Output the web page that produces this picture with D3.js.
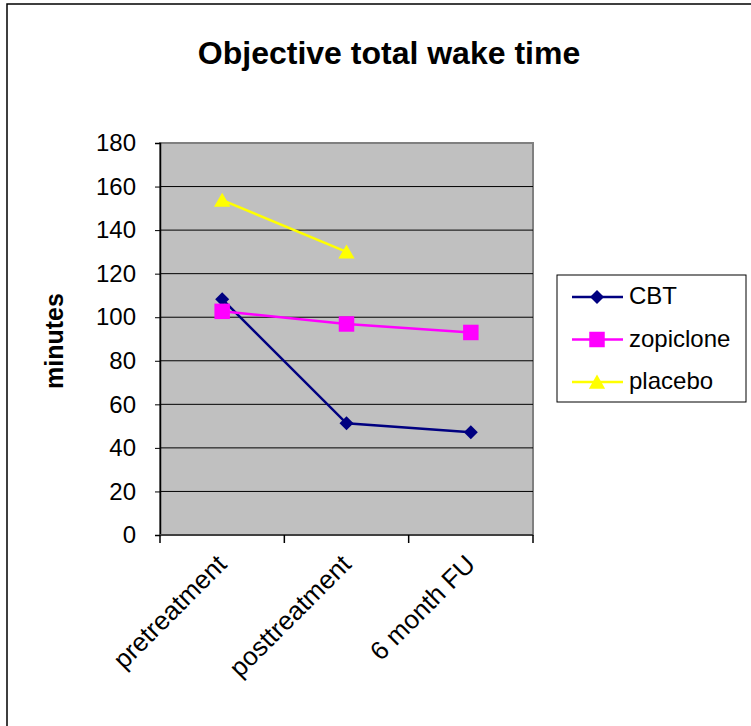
<!DOCTYPE html>
<html>
<head>
<meta charset="utf-8">
<script src="https://cdn.jsdelivr.net/npm/d3@7"></script>
<style>
  body { margin: 0; background: #fff; }
  text { font-family: "Liberation Sans", Arial, sans-serif; }
</style>
</head>
<body>
<div id="chart"></div>
<script>
// Data
const categories = ["pretreatment", "posttreatment", "6 month FU"];
const cbt = [108.3, 51.3, 47.2];
const zopiclone = [102.7, 96.9, 93];
const placebo = [153.8, 130, null];
const yTicks = [0, 20, 40, 60, 80, 100, 120, 140, 160, 180];
const seriesNames = ["CBT", "zopiclone", "placebo"];

const width = 751, height = 726;
const plot = {left: 160, right: 533, top: 143, bottom: 535};

const svg = d3.select("#chart").append("svg")
    .attr("width", width)
    .attr("height", height);

// outer chart border
svg.append("rect")
    .attr("x", 7).attr("y", 4)
    .attr("width", 760).attr("height", 740)
    .attr("fill", "#fff")
    .attr("stroke", "#000").attr("stroke-width", 1.5);

// Title
svg.append("text")
    .attr("x", 389).attr("y", 64)
    .attr("text-anchor", "middle")
    .style("font-size", "32px").style("font-weight", "bold")
    .text("Objective total wake time");

// Scales
const xScale = d3.scaleBand().domain(categories).range([plot.left, plot.right]);
const yScale = d3.scaleLinear().domain([0, 180]).range([plot.bottom, plot.top]);

// Plot area background
svg.append("rect")
    .attr("x", plot.left).attr("y", plot.top)
    .attr("width", plot.right - plot.left).attr("height", plot.bottom - plot.top)
    .attr("fill", "#c0c0c0")
    .attr("stroke", "#808080").attr("stroke-width", 2);

// Gridlines
svg.append("g").selectAll("line")
    .data(yTicks.filter(d => d > 0 && d < 180))
    .enter().append("line")
    .attr("x1", plot.left).attr("x2", plot.right)
    .attr("y1", d => yScale(d)).attr("y2", d => yScale(d))
    .attr("stroke", "#000").attr("stroke-width", 1);

// Y axis
const yAxis = svg.append("g")
    .attr("transform", `translate(${plot.left},0)`)
    .call(d3.axisLeft(yScale).tickValues(yTicks).tickSize(5).tickPadding(19));
yAxis.select(".domain").attr("stroke", "#000").attr("stroke-width", 1.5);
yAxis.selectAll("text").style("font-size", "24px").attr("fill", "#000")
    .style("font-family", "'Liberation Sans', Arial, sans-serif");

// X axis (ticks between categories)
const xAxis = svg.append("g")
    .attr("transform", `translate(0,${plot.bottom})`);
xAxis.append("line")
    .attr("x1", plot.left).attr("x2", plot.right)
    .attr("stroke", "#404040").attr("stroke-width", 2);
const boundaries = [plot.left].concat(categories.map(c => xScale(c) + xScale.bandwidth()));
xAxis.selectAll(".tk").data(boundaries).enter().append("line")
    .attr("class", "tk")
    .attr("x1", d => d).attr("x2", d => d)
    .attr("y1", 0).attr("y2", 8)
    .attr("stroke", "#000").attr("stroke-width", 1.5);
xAxis.selectAll(".lbl").data(categories).enter().append("text")
    .attr("class", "lbl")
    .attr("transform", d => `translate(${xScale(d) + xScale.bandwidth() / 2 + 6},${31}) rotate(-45)`)
    .attr("text-anchor", "end")
    .style("font-size", "26px")
    .text(d => d);

// Y axis label
svg.append("text")
    .attr("transform", "translate(63,341) rotate(-90)")
    .attr("text-anchor", "middle")
    .style("font-size", "25px").style("font-weight", "bold")
    .text("minutes");

// Series
const colors = ["#000080", "#ff00ff", "#ffff00"];
const shapes = [d3.symbolDiamond2, d3.symbolSquare, d3.symbolTriangle];
const sizes = [125, 240, 115];
const shiftY = [0, 0, 2];
const allSeries = [cbt, zopiclone, placebo];

const line = d3.line()
    .defined(d => d.v != null)
    .x(d => xScale(d.c) + xScale.bandwidth() / 2)
    .y(d => yScale(d.v));

allSeries.forEach((vals, i) => {
    const pts = vals.map((v, j) => ({c: categories[j], v: v}));
    svg.append("path")
        .datum(pts)
        .attr("d", line)
        .attr("fill", "none")
        .attr("stroke", colors[i]).attr("stroke-width", 2.5);
    svg.append("g").selectAll("path")
        .data(pts.filter(d => d.v != null))
        .enter().append("path")
        .attr("d", d3.symbol().type(shapes[i]).size(sizes[i]))
        .attr("transform", d => `translate(${xScale(d.c) + xScale.bandwidth() / 2},${yScale(d.v) + shiftY[i]})`)
        .attr("fill", colors[i]);
});

// Legend
const legend = svg.append("g");
legend.append("rect")
    .attr("x", 557).attr("y", 275)
    .attr("width", 189).attr("height", 127)
    .attr("fill", "#fff").attr("stroke", "#000").attr("stroke-width", 1);
seriesNames.forEach((name, i) => {
    const y = 297 + i * 42.5;
    legend.append("line")
        .attr("x1", 572).attr("x2", 623).attr("y1", y).attr("y2", y)
        .attr("stroke", colors[i]).attr("stroke-width", 2.5);
    legend.append("path")
        .attr("d", d3.symbol().type(shapes[i]).size(sizes[i]))
        .attr("transform", `translate(597,${y + shiftY[i]})`)
        .attr("fill", colors[i]);
    legend.append("text")
        .attr("x", 629).attr("y", y + 7)
        .style("font-size", "24px")
        .text(name);
});
</script>
</body>
</html>
